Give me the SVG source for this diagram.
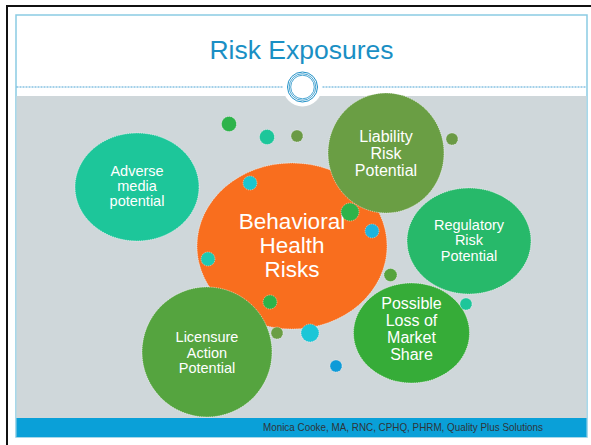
<svg xmlns="http://www.w3.org/2000/svg" width="591" height="445" viewBox="0 0 591 445">
<style>
.b{stroke:#ffffff;stroke-width:0.7;stroke-dasharray:1.2 1;stroke-opacity:0.8}
.t{font-family:"Liberation Sans",Arial,sans-serif;fill:#ffffff;text-anchor:middle}
.d{stroke:#ffffff;stroke-width:0.6;stroke-dasharray:1 1;stroke-opacity:0.8}
.r{fill:none;stroke:#1E8FC6}
</style>
<rect x="0" y="0" width="591" height="445" fill="#ffffff"/>
<!-- frame -->
<rect x="6" y="5" width="585" height="2" fill="#111111"/>
<rect x="6" y="5" width="2" height="440" fill="#111111"/>
<!-- slide -->
<rect x="16" y="15" width="571" height="422" fill="#ffffff" stroke="#8ACBE3" stroke-width="1.5"/>
<rect x="16.5" y="96" width="570" height="322" fill="#CFD7DA"/>
<rect x="16.5" y="418" width="570" height="19" fill="#0AA0D8"/>
<line x1="16.5" y1="87" x2="586.5" y2="87" stroke="#4AA3D3" stroke-width="1" stroke-dasharray="2 1"/>
<text x="301.5" y="59" font-family="'Liberation Sans',Arial,sans-serif" font-size="26.5" fill="#1A8FC4" text-anchor="middle">Risk Exposures</text>
<g id="ornament">
<circle cx="302.5" cy="87" r="19.5" fill="#ffffff"/>
<circle class="r" cx="302.5" cy="87" r="15" stroke-width="1"/>
<circle class="r" cx="302.5" cy="87" r="13.3" stroke-width="0.8"/>
<circle class="r" cx="302.5" cy="87" r="11.8" stroke-width="0.8"/>
</g>
<text x="543" y="431" font-family="'Liberation Sans',Arial,sans-serif" font-size="10.5" fill="#2F3438" text-anchor="end" textLength="280" lengthAdjust="spacingAndGlyphs">Monica Cooke, MA, RNC, CPHQ, PHRM, Quality Plus Solutions</text>

<g id="adverse">
<ellipse class="b" cx="137" cy="187" rx="62" ry="54" fill="#1DC69A"/>
<text class="t" font-size="14.5"><tspan x="137" y="176">Adverse</tspan><tspan x="137" y="191">media</tspan><tspan x="137" y="206">potential</tspan></text>
</g>
<g id="behavioral">
<ellipse class="b" cx="292" cy="246" rx="95" ry="83" fill="#F96E1E"/>
<text class="t" font-size="22.5"><tspan x="292" y="229">Behavioral</tspan><tspan x="292" y="253">Health</tspan><tspan x="292" y="277">Risks</tspan></text>
</g>
<g id="liability">
<ellipse class="b" cx="386" cy="153" rx="58" ry="60" fill="#6A9E44"/>
<text class="t" font-size="16"><tspan x="386" y="142">Liability</tspan><tspan x="386" y="159">Risk</tspan><tspan x="386" y="176">Potential</tspan></text>
</g>
<g id="licensure">
<ellipse class="b" cx="207" cy="352" rx="65" ry="65" fill="#55A43F"/>
<text class="t" font-size="14.5"><tspan x="207" y="342">Licensure</tspan><tspan x="207" y="357.5">Action</tspan><tspan x="207" y="373">Potential</tspan></text>
</g>
<g id="possible">
<ellipse class="b" cx="411.5" cy="333" rx="58" ry="50" fill="#36AC38"/>
<text class="t" font-size="16"><tspan x="411.5" y="309">Possible</tspan><tspan x="411.5" y="326">Loss of</tspan><tspan x="411.5" y="343">Market</tspan><tspan x="411.5" y="360">Share</tspan></text>
</g>
<g id="regulatory">
<ellipse class="b" cx="469" cy="241" rx="62" ry="53" fill="#27B96A"/>
<text class="t" font-size="14.5"><tspan x="469" y="230">Regulatory</tspan><tspan x="469" y="245">Risk</tspan><tspan x="469" y="261">Potential</tspan></text>
</g>
<g id="dots">
<circle class="d" cx="229" cy="124" r="7.5" fill="#2DB34A"/>
<circle class="d" cx="267" cy="137" r="7.5" fill="#1DC69A"/>
<circle class="d" cx="297" cy="136" r="6" fill="#6B9A45"/>
<circle class="d" cx="250" cy="183" r="7" fill="#1BC6D0"/>
<circle class="d" cx="350" cy="212" r="9" fill="#2DB34A"/>
<circle class="d" cx="372" cy="231" r="7" fill="#1EB4DC"/>
<circle class="d" cx="208" cy="259" r="7" fill="#1EC9B0"/>
<circle class="d" cx="452" cy="139" r="6" fill="#6B9A45"/>
<circle class="d" cx="390.5" cy="275" r="6.5" fill="#56A43E"/>
<circle class="d" cx="466" cy="304" r="6" fill="#1DC69A"/>
<circle class="d" cx="270" cy="302" r="7" fill="#2DB34A"/>
<circle class="d" cx="277" cy="333" r="6" fill="#6A9E44"/>
<circle class="d" cx="310" cy="333" r="9" fill="#1BC6D7"/>
<circle class="d" cx="336" cy="366" r="6" fill="#0F9BD8"/>
</g>
</svg>
